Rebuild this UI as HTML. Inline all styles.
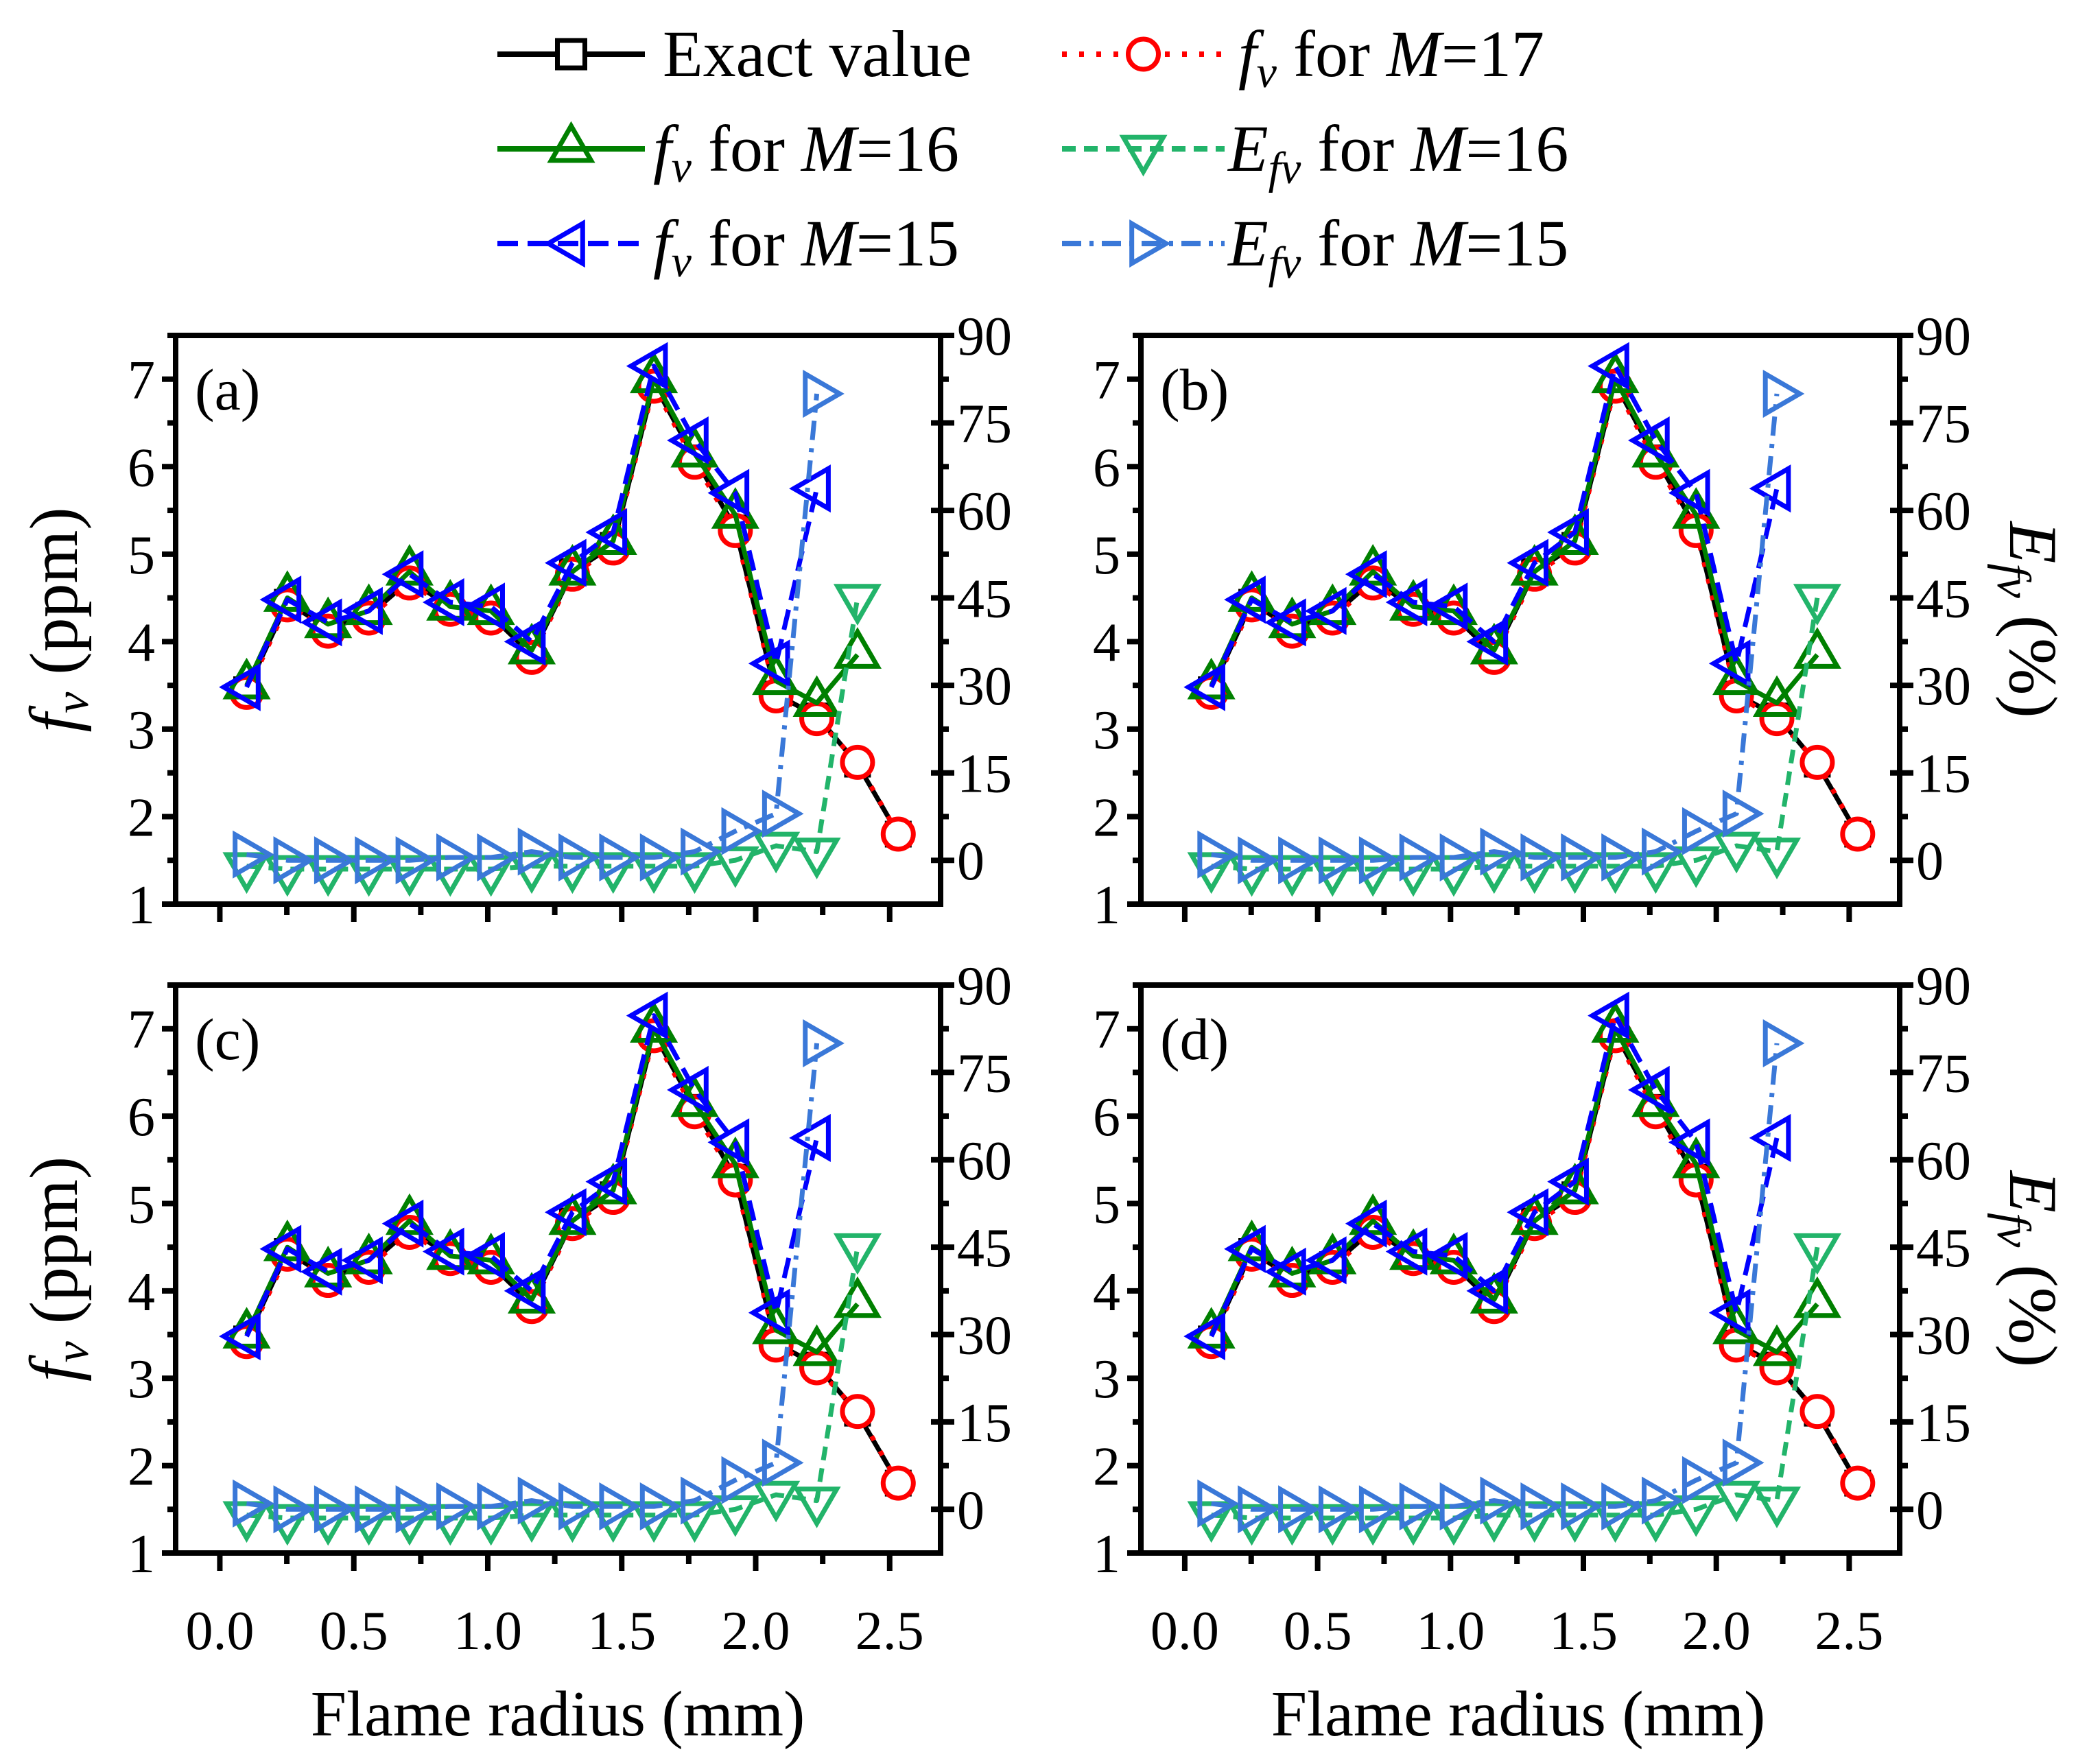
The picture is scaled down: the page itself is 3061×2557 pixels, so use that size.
<!DOCTYPE html>
<html><head><meta charset="utf-8">
<style>
html,body{margin:0;padding:0;background:#fff;}
svg{display:block;font-family:"Liberation Serif",serif;}
</style></head>
<body>
<svg id="chart" width="3061" height="2557" viewBox="0 0 3061 2557" xmlns="http://www.w3.org/2000/svg">
<rect width="3061" height="2557" fill="#fff"/>
<g id="legend"></g>
<g id="panels"></g>
<text x="813" y="2530" font-size="94" text-anchor="middle">Flame radius (mm)</text>
<text x="2213" y="2530" font-size="94" text-anchor="middle">Flame radius (mm)</text>
</svg>
<script>
const radius = [0.1,0.252,0.404,0.556,0.708,0.86,1.012,1.164,1.316,1.468,1.62,1.772,1.924,2.076,2.228,2.38,2.532];
const exactValue = [3.45,4.45,4.15,4.3,4.7,4.4,4.3,3.85,4.8,5.1,6.95,6.1,5.3,3.4,3.15,2.6,1.8];
const fvM17 = [3.42,4.42,4.12,4.27,4.67,4.37,4.27,3.82,4.77,5.07,6.92,6.05,5.27,3.38,3.12,2.62,1.8];
const fvM16 = [3.5,4.5,4.2,4.35,4.8,4.4,4.35,3.9,4.8,5.15,7.0,6.15,5.45,3.55,3.3,3.85];
const fvM15 = [3.48,4.48,4.22,4.35,4.77,4.45,4.4,4.0,4.9,5.25,7.15,6.3,5.7,3.75,5.75];
const efvM16 = [-1,-1.5,-1.5,-1.5,-1.5,-1.5,-1.5,-1,-1,-1,-1,-1,0,2.5,1.5,45];
const efvM15 = [1,0,0,0,0,0.5,0.5,1.5,0.5,0.5,0.5,1.5,5,8,80];
const leftTicks = [1,2,3,4,5,6,7];
const rightTicks = [0,15,30,45,60,75,90];
const xTicks = ["0.0","0.5","1.0","1.5","2.0","2.5"];
const panelLabels = ["(a)","(b)","(c)","(d)"];

const NS="http://www.w3.org/2000/svg";
function mk(tag, attrs, parent){const e=document.createElementNS(NS,tag);for(const k in attrs)e.setAttribute(k,attrs[k]);parent.appendChild(e);return e;}

const panelBoxes=[{l:256,r:1371,t:489,b:1318},{l:1663,r:2769,t:489,b:1318},{l:256,r:1371,t:1436,b:2264},{l:1663,r:2769,t:1436,b:2264}];
const XMIN=-0.165,XMAX=2.69,YMIN=1,YMAX=7.5,EMIN=-7.5,EMAX=90;

function markerPath(type,cx,cy,s){
  if(type==='square') return `M${cx-s},${cy-s}H${cx+s}V${cy+s}H${cx-s}Z`;
  if(type==='up') return `M${cx},${cy-s*1.15}L${cx+s},${cy+s*0.58}L${cx-s},${cy+s*0.58}Z`;
  if(type==='down') return `M${cx},${cy+s*1.15}L${cx+s},${cy-s*0.58}L${cx-s},${cy-s*0.58}Z`;
  if(type==='left') return `M${cx-s*1.15},${cy}L${cx+s*0.58},${cy-s}L${cx+s*0.58},${cy+s}Z`;
  if(type==='right') return `M${cx+s*1.15},${cy}L${cx-s*0.58},${cy-s}L${cx-s*0.58},${cy+s}Z`;
}
function drawMarker(g,type,cx,cy,color,size){
  if(type==='circle'){const c=mk('circle',{cx:cx,cy:cy,r:size,fill:'#fff',stroke:color,'stroke-width':7},g);return c;}
  return mk('path',{d:markerPath(type,cx,cy,size),fill:type==='square'?'#fff':'none',stroke:color,'stroke-width':7},g);
}

const series=[
 {name:'exact-value',data:exactValue,axis:'L',color:'#000',dash:'',marker:'square',size:16},
 {name:'fv-m17',data:fvM17,axis:'L',color:'#ff0000',dash:'7 18',marker:'circle',size:22},
 {name:'fv-m16',data:fvM16,axis:'L',color:'#008000',dash:'',marker:'up',size:29},
 {name:'fv-m15',data:fvM15,axis:'L',color:'#0000ff',dash:'30 14',marker:'left',size:29},
 {name:'efv-m16',data:efvM16,axis:'R',color:'#22b46a',dash:'20 12',marker:'down',size:29},
 {name:'efv-m15',data:efvM15,axis:'R',color:'#3a78d8',dash:'28 12 6 12',marker:'right',size:29}
];

const panelsG=document.getElementById('panels');
panelBoxes.forEach((p,pi)=>{
  const g=mk('g',{},panelsG);
  
  
  const W=p.r-p.l,H=p.b-p.t;
  const xs=v=>p.l+(v-XMIN)/(XMAX-XMIN)*W;
  const yL=v=>p.t+(YMAX-v)/(YMAX-YMIN)*H;
  const yR=v=>p.t+(EMAX-v)/(EMAX-EMIN)*H;
  series.forEach(s=>{
    const sg=mk('g',{},g);
    
    
    const ys=s.axis==='L'?yL:yR;
    const pts=s.data.map((v,i)=>xs(radius[i]).toFixed(1)+','+ys(v).toFixed(1)).join(' ');
    const line=mk('polyline',{points:pts,fill:'none',stroke:s.color,'stroke-width':7,'stroke-dasharray':s.dash,'stroke-linejoin':'round'},sg);
    
    
    s.data.forEach((v,i)=>{
      const m=drawMarker(sg,s.marker,xs(radius[i]),ys(v),s.color,s.size);
      
      
    });
  });
  const fr=mk('rect',{x:p.l,y:p.t,width:W,height:H,fill:'none',stroke:'#000','stroke-width':8},g);
  
  
  for(let v=1;v<=7.5;v+=0.5){
    const y=yL(v),maj=Number.isInteger(v);
    mk('line',{x1:p.l-(maj?20:12),x2:p.l,y1:y,y2:y,stroke:'#000','stroke-width':8},g);
  }
  leftTicks.forEach(v=>{
    const t=mk('text',{x:p.l-30,y:yL(v)+28,'font-size':80,'text-anchor':'end'},g);
    t.textContent=v;
    
    
  });
  for(let v=0;v<=90;v+=7.5){
    const y=yR(v),maj=v%15===0;
    mk('line',{x1:p.r-(maj?14:0),x2:p.r+(maj?20:12),y1:y,y2:y,stroke:'#000','stroke-width':8},g);
  }
  rightTicks.forEach(v=>{
    const t=mk('text',{x:p.r+24,y:yR(v)+28,'font-size':80,'text-anchor':'start'},g);
    t.textContent=v;
    
    
  });
  for(let k=0;k<=10;k++){
    const v=k*0.25,x=xs(v),maj=k%2===0;
    mk('line',{x1:x,x2:x,y1:p.b,y2:p.b+(maj?26:16),stroke:'#000','stroke-width':8},g);
  }
  if(pi>=2){
    xTicks.forEach(s=>{
      const t=mk('text',{x:xs(parseFloat(s)),y:p.b+140,'font-size':80,'text-anchor':'middle'},g);
      t.textContent=s;
      
      
    });
  }
  const lab=mk('text',{x:p.l+28,y:p.t+108,'font-size':86},g);
  lab.textContent=panelLabels[pi];
  
  
  const cy=(p.t+p.b)/2;
  if(pi%2===0){
    const t=mk('text',{transform:`translate(112,${cy}) rotate(-90)`,'font-size':100,'text-anchor':'middle'},g);
    t.innerHTML='<tspan font-style="italic">f</tspan><tspan font-style="italic" font-size="70" dy="16">v</tspan><tspan dy="-16"> (ppm)</tspan>';
    
    
  } else {
    const t=mk('text',{transform:`translate(2930,${cy}) rotate(90)`,'font-size':100,'text-anchor':'middle'},g);
    t.innerHTML='<tspan font-style="italic">E</tspan><tspan font-style="italic" font-size="70" dy="18">fv</tspan><tspan dy="-18"> (%)</tspan>';
    
    
  }
});

const lg=document.getElementById('legend');
const legendItems=[
 {s:0,x1:725,x2:940,y:79,tx:966,html:'Exact value'},
 {s:1,x1:1548,x2:1785,y:79,tx:1805,html:'<tspan font-style="italic">f</tspan><tspan font-style="italic" font-size="66" dy="16">v</tspan><tspan dy="-16"> for  </tspan><tspan font-style="italic">M</tspan>=17'},
 {s:2,x1:725,x2:940,y:217,tx:952,html:'<tspan font-style="italic">f</tspan><tspan font-style="italic" font-size="66" dy="16">v</tspan><tspan dy="-16"> for </tspan><tspan font-style="italic">M</tspan>=16'},
 {s:4,x1:1548,x2:1785,y:217,tx:1790,html:'<tspan font-style="italic">E</tspan><tspan font-style="italic" font-size="66" dy="18">fv</tspan><tspan dy="-18"> for </tspan><tspan font-style="italic">M</tspan>=16'},
 {s:3,x1:725,x2:940,y:355,tx:952,html:'<tspan font-style="italic">f</tspan><tspan font-style="italic" font-size="66" dy="16">v</tspan><tspan dy="-16"> for </tspan><tspan font-style="italic">M</tspan>=15'},
 {s:5,x1:1548,x2:1785,y:355,tx:1790,html:'<tspan font-style="italic">E</tspan><tspan font-style="italic" font-size="66" dy="18">fv</tspan><tspan dy="-18"> for </tspan><tspan font-style="italic">M</tspan>=15'}
];
legendItems.forEach(it=>{
  const s=series[it.s];
  const g=mk('g',{},lg);
  
  
  mk('line',{x1:it.x1,x2:it.x2,y1:it.y,y2:it.y,stroke:s.color,'stroke-width':8,'stroke-dasharray':s.dash},g);
  drawMarker(g,s.marker,(it.x1+it.x2)/2,it.y,s.color,s.marker==='square'?20:s.size);
  const t=mk('text',{x:it.tx,y:it.y+32,'font-size':96},g);
  t.innerHTML=it.html;
});
</script>
</body></html>
